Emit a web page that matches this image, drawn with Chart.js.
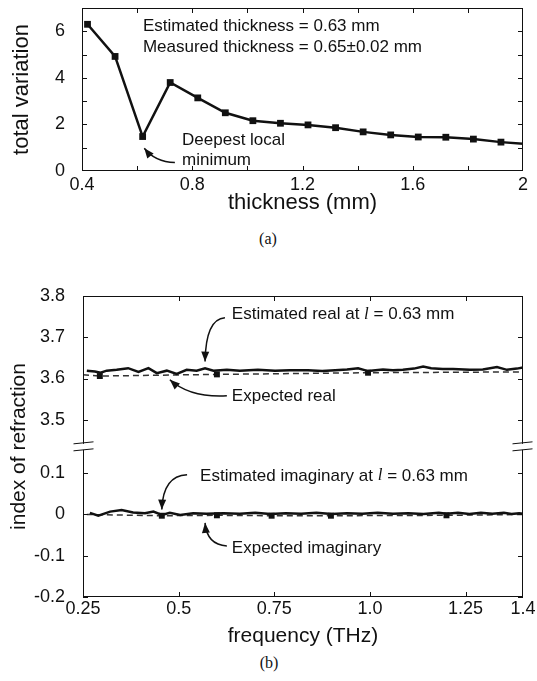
<!DOCTYPE html>
<html>
<head>
<meta charset="utf-8">
<title>Thickness estimate and index of refraction</title>
<script src="https://cdn.jsdelivr.net/npm/chart.js@4.4.1/dist/chart.umd.min.js"></script>
<style>
  body { margin: 0; background: #fff; }
  #wrap { position: relative; width: 537px; height: 681px; }
  canvas { position: absolute; left: 0; }
  #chartA { top: 0; }
  #chartB { top: 250px; }
  .cap { position: absolute; width: 40px; text-align: center; font: 16px "Liberation Serif", serif; color: #111; }
</style>
</head>
<body>
<div id="wrap">
  <canvas id="chartA" width="537" height="230"></canvas>
  <div class="cap" style="left:248px; top:230px">(a)</div>
  <canvas id="chartB" width="537" height="400"></canvas>
  <div class="cap" style="left:249px; top:654px">(b)</div>
</div>
<script>
// (a) total variation against trial thickness
const thickness = [0.42, 0.52, 0.62, 0.72, 0.82, 0.92, 1.02, 1.12, 1.22, 1.32, 1.42, 1.52, 1.62, 1.72, 1.82, 1.92, 2.02];
const totalVariation = [6.3, 4.92, 1.48, 3.8, 3.14, 2.5, 2.16, 2.05, 1.98, 1.86, 1.68, 1.55, 1.46, 1.45, 1.37, 1.24, 1.15];
const thicknessTicks = [0.4, 0.8, 1.2, 1.6, 2];
const thicknessMinor = [0.6, 0.8, 1.0, 1.2, 1.4, 1.6, 1.8];
const variationTicks = [0, 2, 4, 6];
const variationMinor = [1, 2, 3, 4, 5, 6];

// (b) index of refraction against frequency
const realFreq = [0.26, 0.281, 0.296, 0.312, 0.338, 0.368, 0.395, 0.421, 0.443, 0.469, 0.495, 0.521, 0.547, 0.569, 0.591,
  0.626, 0.66, 0.707, 0.752, 0.79, 0.838, 0.875, 0.909, 0.94, 0.969, 0.995, 1.034, 1.06, 1.086, 1.115, 1.139, 1.16,
  1.19, 1.217, 1.261, 1.295, 1.332, 1.358, 1.384, 1.4];
const realEstimated = [3.619, 3.617, 3.614, 3.619, 3.621, 3.625, 3.616, 3.625, 3.613, 3.619, 3.611, 3.621, 3.619, 3.625, 3.619,
  3.621, 3.619, 3.621, 3.619, 3.62, 3.62, 3.618, 3.62, 3.622, 3.625, 3.618, 3.622, 3.62, 3.621, 3.624, 3.629, 3.625,
  3.623, 3.623, 3.621, 3.622, 3.628, 3.621, 3.624, 3.627];
const imagFreq = [0.268, 0.29, 0.321, 0.351, 0.381, 0.412, 0.434, 0.456, 0.477, 0.504, 0.538, 0.573, 0.617, 0.66, 0.7, 0.74,
  0.78, 0.82, 0.86, 0.9, 0.94, 0.98, 1.02, 1.06, 1.1, 1.14, 1.18, 1.2, 1.23, 1.26, 1.29, 1.32, 1.35, 1.37, 1.39, 1.4];
const imagEstimated = [0.004, -0.003, 0.007, 0.011, 0.005, 0.003, 0.007, -0.001, 0.004, -0.001, 0.003, 0.002, 0.003, 0.002,
  0.004, 0.001, 0.003, 0.002, 0.004, 0.001, 0.003, 0.002, 0.004, 0.002, 0.003, 0.001, 0.004, 0.002, 0.004, 0.001, 0.004,
  0.002, 0.004, 0.001, 0.003, 0.002];
const expRealFreq = [0.25, 0.294, 0.6, 0.995, 1.4];
const expReal = [3.609, 3.606, 3.61, 3.614, 3.616];
const expImagFreq = [0.26, 0.456, 0.6, 0.743, 0.898, 1.2, 1.4];
const expImag = [0, -0.003, -0.002, -0.003, -0.003, -0.002, 0];
const freqTicks = [0.25, 0.5, 0.75, 1.0, 1.25, 1.4];
const freqMinor = [0.5, 0.75, 1.0, 1.25];
const lowerTicks = [-0.2, -0.1, 0, 0.1];
const upperTicks = [3.5, 3.6, 3.7, 3.8];

// broken axis: the real part is shifted down so both halves share one linear scale
const OFF = 3.2704;
const BREAK = 0.164;
const up = v => v - OFF;

Chart.defaults.font.family = '"Liberation Sans", Arial, sans-serif';
Chart.defaults.color = '#111';

// box round the plot, inward tick marks, axis break
const frame = {
  id: 'frame',
  afterDatasetsDraw(chart, args, opts) {
    const { ctx, chartArea: a, scales: { x, y } } = chart;
    ctx.save();
    ctx.strokeStyle = '#111';
    ctx.lineWidth = 1;
    ctx.strokeRect(a.left + 0.5, a.top + 0.5, a.width - 1, a.height - 1);
    ctx.beginPath();
    (opts.xTicks || []).forEach(v => {
      const px = Math.round(x.getPixelForValue(v)) + 0.5;
      ctx.moveTo(px, a.top); ctx.lineTo(px, a.top + 5);
      ctx.moveTo(px, a.bottom); ctx.lineTo(px, a.bottom - 5);
    });
    (opts.yTicks || []).forEach(v => {
      const py = Math.round(y.getPixelForValue(v)) + 0.5;
      ctx.moveTo(a.left, py); ctx.lineTo(a.left + 5, py);
      ctx.moveTo(a.right, py); ctx.lineTo(a.right - 5, py);
    });
    ctx.stroke();
    if (opts.breakAt !== undefined) {
      const by = y.getPixelForValue(opts.breakAt);
      [a.left + 0.5, a.right - 0.5].forEach(ax => {
        ctx.fillStyle = '#fff';
        ctx.fillRect(ax - 2, by - 3, 4, 6);
        ctx.beginPath();
        ctx.moveTo(ax - 10, by - 3); ctx.lineTo(ax + 10, by - 5);
        ctx.moveTo(ax - 10, by + 4); ctx.lineTo(ax + 10, by + 2);
        ctx.stroke();
      });
    }
    ctx.restore();
  }
};

// text labels and curved arrows, placed in data units
const notes = {
  id: 'notes',
  afterDraw(chart, args, opts) {
    const { ctx, scales: { x, y } } = chart;
    ctx.save();
    ctx.fillStyle = '#111';
    ctx.strokeStyle = '#111';
    ctx.textBaseline = 'middle';
    (opts.texts || []).forEach(t => {
      let px = x.getPixelForValue(t.x);
      const py = y.getPixelForValue(t.y);
      t.parts.forEach(p => {
        ctx.font = p.italic ? 'italic 17px "Liberation Serif"' : '17px "Liberation Sans"';
        ctx.fillText(p.s, px, py);
        px += ctx.measureText(p.s).width;
      });
    });
    (opts.arrows || []).forEach(ar => {
      const p = ar.map(([vx, vy]) => [x.getPixelForValue(vx), y.getPixelForValue(vy)]);
      ctx.lineWidth = 1.5;
      ctx.beginPath();
      ctx.moveTo(p[0][0], p[0][1]);
      ctx.quadraticCurveTo(p[1][0], p[1][1], p[2][0], p[2][1]);
      ctx.stroke();
      const ang = Math.atan2(p[2][1] - p[1][1], p[2][0] - p[1][0]);
      const L = 10, W = 4;
      const bx = p[2][0] - L * Math.cos(ang), by = p[2][1] - L * Math.sin(ang);
      ctx.beginPath();
      ctx.moveTo(p[2][0], p[2][1]);
      ctx.lineTo(bx + W * Math.sin(ang), by - W * Math.cos(ang));
      ctx.lineTo(bx - W * Math.sin(ang), by + W * Math.cos(ang));
      ctx.closePath();
      ctx.fill();
    });
    ctx.restore();
  }
};

const plain = s => [{ s }];

new Chart(document.getElementById('chartA'), {
  type: 'line',
  data: {
    datasets: [{
      data: thickness.map((t, i) => ({ x: t, y: totalVariation[i] })),
      borderColor: '#111',
      borderWidth: 2.5,
      pointStyle: 'rect',
      pointRadius: c => (c.parsed && c.parsed.x > 2 ? 0 : 4.8),
      pointBackgroundColor: '#111',
      pointBorderWidth: 0,
      tension: 0
    }]
  },
  options: {
    responsive: false,
    animation: false,
    layout: { padding: { left: 0, right: 14, top: 8, bottom: 0 } },
    plugins: {
      legend: { display: false },
      tooltip: { enabled: false },
      frame: { xTicks: thicknessMinor, yTicks: variationMinor },
      notes: {
        texts: [
          { x: 0.621, y: 6.2, parts: plain('Estimated thickness = 0.63 mm') },
          { x: 0.621, y: 5.3, parts: plain('Measured thickness = 0.65\u00b10.02 mm') },
          { x: 0.763, y: 1.33, parts: plain('Deepest local') },
          { x: 0.763, y: 0.47, parts: plain('minimum') }
        ],
        arrows: [
          [[0.737, 0.36], [0.665, 0.39], [0.626, 0.98]]
        ]
      }
    },
    scales: {
      x: {
        type: 'linear', min: 0.4, max: 2,
        afterBuildTicks: s => { s.ticks = thicknessTicks.map(v => ({ value: v })); },
        afterFit: s => { s.height = 59; s.paddingLeft = 0; s.paddingRight = 0; },
        grid: { display: false, drawTicks: false },
        border: { display: false },
        ticks: { font: { size: 18 }, padding: 3, maxRotation: 0, autoSkip: false, callback: v => String(v) },
        title: { display: true, text: 'thickness (mm)', font: { size: 22 }, padding: { top: 0, bottom: 14 } }
      },
      y: {
        type: 'linear', min: 0, max: 7,
        afterBuildTicks: s => { s.ticks = variationTicks.map(v => ({ value: v })); },
        afterFit: s => { s.width = 82; s.paddingTop = 0; s.paddingBottom = 0; },
        grid: { display: false, drawTicks: false },
        border: { display: false },
        ticks: { font: { size: 18 }, padding: 17, callback: v => String(v) },
        title: { display: true, text: 'total variation', font: { size: 22 }, padding: { top: 9, bottom: 0 } }
      }
    }
  },
  plugins: [frame, notes]
});

const endsHidden = r => c => (c.dataIndex === 0 || c.dataIndex === c.dataset.data.length - 1 ? 0 : r);

new Chart(document.getElementById('chartB'), {
  type: 'line',
  data: {
    datasets: [
      {
        data: realFreq.map((f, i) => ({ x: f, y: up(realEstimated[i]) })),
        borderColor: '#111', borderWidth: 2.5, pointRadius: 0, tension: 0
      },
      {
        data: imagFreq.map((f, i) => ({ x: f, y: imagEstimated[i] })),
        borderColor: '#111', borderWidth: 2.5, pointRadius: 0, tension: 0
      },
      {
        data: expRealFreq.map((f, i) => ({ x: f, y: up(expReal[i]) })),
        borderColor: '#333', borderWidth: 1.5, borderDash: [6, 4],
        pointStyle: 'rect', pointRadius: endsHidden(4.2), pointBackgroundColor: '#111', pointBorderWidth: 0, tension: 0
      },
      {
        data: expImagFreq.map((f, i) => ({ x: f, y: expImag[i] })),
        borderColor: '#333', borderWidth: 1.5, borderDash: [6, 4],
        pointStyle: 'rect', pointRadius: endsHidden(4.2), pointBackgroundColor: '#111', pointBorderWidth: 0, tension: 0
      }
    ]
  },
  options: {
    responsive: false,
    animation: false,
    layout: { padding: { left: 0, right: 14, top: 46, bottom: 0 } },
    plugins: {
      legend: { display: false },
      tooltip: { enabled: false },
      frame: { xTicks: freqMinor, yTicks: lowerTicks.concat(upperTicks.map(up)), breakAt: BREAK },
      notes: {
        texts: [
          { x: 0.639, y: up(3.755), parts: [{ s: 'Estimated real at ' }, { s: 'l', italic: true }, { s: ' = 0.63 mm' }] },
          { x: 0.639, y: up(3.556), parts: plain('Expected real') },
          { x: 0.556, y: 0.0937, parts: [{ s: 'Estimated imaginary at ' }, { s: 'l', italic: true }, { s: ' = 0.63 mm' }] },
          { x: 0.639, y: -0.081, parts: plain('Expected imaginary') }
        ],
        arrows: [
          [[0.621, up(3.747)], [0.571, up(3.744)], [0.569, up(3.641)]],
          [[0.626, up(3.558)], [0.53, up(3.553)], [0.477, up(3.597)]],
          [[0.522, 0.0961], [0.459, 0.0937], [0.456, 0.012]],
          [[0.626, -0.0762], [0.574, -0.0738], [0.569, -0.0204]]
        ]
      }
    },
    scales: {
      x: {
        type: 'linear', min: 0.25, max: 1.4,
        afterBuildTicks: s => { s.ticks = freqTicks.map(v => ({ value: v })); },
        afterFit: s => { s.height = 53; s.paddingLeft = 0; s.paddingRight = 0; },
        grid: { display: false, drawTicks: false },
        border: { display: false },
        ticks: { font: { size: 18 }, padding: 1, maxRotation: 0, autoSkip: false, callback: v => (v === 1 ? '1.0' : String(v)) },
        title: { display: true, text: 'frequency (THz)', font: { size: 21 }, padding: { top: 0, bottom: 1 } }
      },
      y: {
        type: 'linear', min: -0.2, max: up(3.8),
        afterBuildTicks: s => { s.ticks = lowerTicks.concat(upperTicks.map(up)).map(v => ({ value: v })); },
        afterFit: s => { s.width = 83; s.paddingTop = 0; s.paddingBottom = 0; },
        grid: { display: false, drawTicks: false },
        border: { display: false },
        ticks: {
          font: { size: 18 }, padding: 18,
          callback: v => (v > BREAK ? (v + OFF).toFixed(1) : (Math.abs(v) < 1e-9 ? '0' : String(v)))
        },
        title: { display: true, text: 'index of refraction', font: { size: 21 }, padding: { top: 7, bottom: 0 } }
      }
    }
  },
  plugins: [frame, notes]
});
</script>
</body>
</html>
